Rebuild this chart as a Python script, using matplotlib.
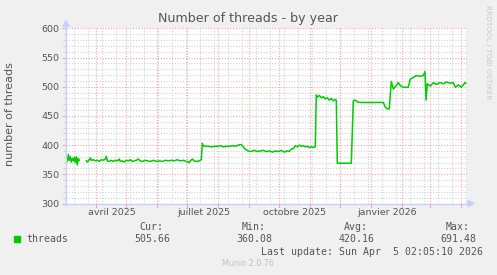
import numpy as np
import matplotlib
matplotlib.use("Agg")
import matplotlib.pyplot as plt
from matplotlib.patches import Polygon, Rectangle

# ---- data (day 0 = 1 Mar 2025) ----
days = [1, 2, 3, 4, 5, 6, 7, 8, 9, 10, 11, 12, 13, 14, 15,
        21, 22, 24, 25, 26, 28, 30, 32, 34, 36, 38, 40, 41, 42, 44, 46, 48, 50,
        52, 54, 55, 57, 59, 61, 63, 65, 67, 69, 71, 73, 75, 77, 80, 82, 85, 88,
        91, 94, 97, 100, 103, 106, 109, 112, 115, 118, 121, 124, 125, 127, 129,
        131, 134, 136, 137, 138, 140, 143, 146, 149, 152, 155, 158, 161, 164,
        167, 170, 173, 176, 178, 180, 183, 186, 189, 192, 195, 198, 201, 204,
        207, 210, 213, 216, 219, 222, 224, 226, 228, 230, 232, 234, 236, 238,
        240, 242, 244, 246, 248, 250, 251, 252, 254, 256, 258, 260, 262, 264,
        266, 268, 270, 271, 272, 280, 286, 288, 290, 292, 295, 300, 305, 310,
        315, 318, 320, 322, 324, 326, 328, 330, 333, 335, 338, 343, 345, 348,
        351, 355, 358, 359.7, 360.7, 362, 365, 368, 371, 375, 378, 381, 385,
        388, 390, 393, 396, 399.7, 400.4]
threads = [375, 372, 384, 374, 380, 371, 377, 373, 379, 370, 380, 366, 377, 374, np.nan,
           373, 371, 375, 378, 374, 375, 373, 374, 372, 375, 374, 376, 381, 373, 372, 374, 372, 374,
           373, 376, 372, 373, 371, 374, 373, 375, 372, 373, 374, 376, 373, 372, 374, 373, 372, 374,
           372, 373, 372, 374, 373, 374, 373, 375, 373, 374, 372, 370, 373, 376, 373,
           372, 373, 375, 403, 399, 398, 398, 397, 398, 398, 399, 397, 398, 398,
           399, 398, 400, 401, 397, 393, 390, 389, 391, 389, 390, 391, 389, 390,
           388, 390, 389, 391, 388, 390, 389, 393, 394, 399, 397, 400, 398, 399,
           397, 398, 396, 397, 396, 397, 486, 482, 485, 481, 483, 479, 481, 477,
           480, 476, 478, 477, 369, 369, 369, 476, 477, 474, 473, 473, 473, 473,
           473, 473, 465, 462, 462, 509, 496, 500, 507, 502, 499, 499, 513, 516,
           519, 518, 519, 526, 477, 505, 501, 507, 504, 507, 505, 508, 506,
           507, 499, 503, 499, 507, 506]

month_days = [31, 61, 92, 122, 153, 184, 214, 245, 275, 306, 337, 365, 396]
label_days = [46.7, 138, 229.7, 322]
labels = ["avril 2025", "juillet 2025", "octobre 2025", "janvier 2026"]
minor_days = list(range(9, 402, 14))

legend_name = "threads"
cur, vmin, avg, vmax = "505.66", "360.08", "420.16", "691.48"

W, H = 497, 275
fig = plt.figure(figsize=(W / 100, H / 100), dpi=100, facecolor="#F0F0F0")

def fx(px):
    return px / W

def fy(py):
    return 1 - py / H

L, R, T, B = 66, 467, 28.3, 203.5
ax = fig.add_axes([fx(L), fy(B), fx(R) - fx(L), fy(T) - fy(B)])
ax.set_facecolor("white")
ax.set_xlim(0.7, 401.7)
ax.set_ylim(300, 600)

minor_c = "#D2D2D2"
major_c = "#EFA8A8"
for d in minor_days:
    ax.axvline(d, color=minor_c, lw=0.8, ls=(0, (1, 1.5)), zorder=1)
for v in range(310, 600, 10):
    if v % 50:
        ax.axhline(v, color=minor_c, lw=0.8, ls=(0, (1, 1.5)), zorder=1)
for d in month_days:
    ax.axvline(d, color=major_c, lw=0.8, ls=(0, (1, 1.5)), zorder=2)
for v in range(300, 601, 50):
    ax.axhline(v, color=major_c, lw=0.8, ls=(0, (1, 1.5)), zorder=2)

ax.plot(days, threads, color="#00CC00", lw=1.1, zorder=5)

for s in ax.spines.values():
    s.set_visible(False)

ax.set_yticks(range(300, 601, 50))
ax.set_yticklabels([str(v) for v in range(300, 601, 50)])
ax.set_yticks([v for v in range(300, 600, 10) if v % 50], minor=True)
ax.set_xticks(label_days)
ax.set_xticklabels(labels)
ax.tick_params(axis="y", which="major", length=3, width=0.8, color=major_c,
               labelsize=6.8, labelcolor="#555555", pad=2)
ax.tick_params(axis="y", which="minor", length=2, width=0.8, color=minor_c)
ax.tick_params(axis="x", which="major", length=0, labelsize=6.8,
               labelcolor="#555555", pad=3)

# axis lines with arrows
ac = "#C8D0FF"
fig.add_artist(plt.Line2D([fx(L), fx(L)], [fy(B + 1), fy(T - 4)], color=ac, lw=1))
fig.add_artist(plt.Line2D([fx(L - 1), fx(R + 3)], [fy(B), fy(B)], color=ac, lw=1))
fig.add_artist(Polygon([[fx(L - 3), fy(T - 2)], [fx(L + 3), fy(T - 2)], [fx(L), fy(T - 8)]],
                       closed=True, color=ac, transform=fig.transFigure))
fig.add_artist(Polygon([[fx(R + 1), fy(B - 3)], [fx(R + 1), fy(B + 3)], [fx(R + 7), fy(B)]],
                       closed=True, color=ac, transform=fig.transFigure))
# month ticks below axis
for d in month_days:
    px = L + (d - 0.7) / 401 * (R - L)
    fig.add_artist(plt.Line2D([fx(px), fx(px)], [fy(B), fy(B + 3)], color=major_c, lw=0.8))

fig.text(fx(248.3), fy(18.5), "Number of threads - by year", ha="center", va="center",
         fontsize=9.1, color="#555555")
fig.text(fx(10), fy(114), "number of threads", rotation=90, ha="center", va="center",
         fontsize=8, color="#555555")
fig.text(fx(488), fy(5), "RRDTOOL / TOBI OETIKER", rotation=270, ha="center", va="top",
         fontsize=5.3, color="#C8C8C8")

mono = dict(family="DejaVu Sans Mono", fontsize=7.1, color="#555555", va="center")
fig.text(fx(163.3), fy(227.3), "Cur:", ha="right", **mono)
fig.text(fx(265.7), fy(227.3), "Min:", ha="right", **mono)
fig.text(fx(367.7), fy(227.3), "Avg:", ha="right", **mono)
fig.text(fx(470), fy(227.3), "Max:", ha="right", **mono)
fig.add_artist(Rectangle((fx(14), fy(242)), fx(6), 6 / H, color="#00CC00",
                         transform=fig.transFigure))
fig.text(fx(26.7), fy(239.3), legend_name, ha="left", **mono)
fig.text(fx(170), fy(239.3), cur, ha="right", **mono)
fig.text(fx(272.3), fy(239.3), vmin, ha="right", **mono)
fig.text(fx(374.3), fy(239.3), avg, ha="right", **mono)
fig.text(fx(476.7), fy(239.3), vmax, ha="right", **mono)
fig.text(fx(482.7), fy(251.7), "Last update: Sun Apr  5 02:05:10 2026", ha="right", **mono)
fig.text(fx(248), fy(264), "Munin 2.0.76", ha="center", va="center",
         fontsize=5.8, color="#C0C0C0")

fig.savefig("out.png", dpi=100, facecolor=fig.get_facecolor())
